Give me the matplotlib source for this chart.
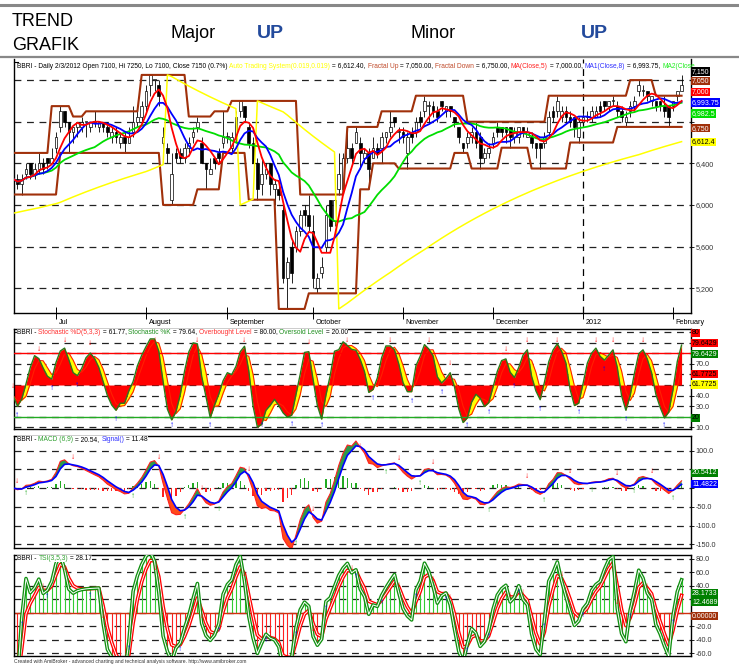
import numpy as np
import pandas as pd
import matplotlib
matplotlib.use("Agg")
import matplotlib.pyplot as plt
import matplotlib.transforms as mtransforms

plt.rcParams['font.family'] = ['Liberation Sans', 'DejaVu Sans']

W, H = 739, 667

# daily OHLC, BBRI, late June 2011 .. 3 Feb 2012
opens = [6350, 6250, 6200, 6300, 6400, 6300, 6350, 6400, 6450, 6400,
         6550, 6750, 6900, 6800, 6700, 6750, 6750, 6800, 6750, 6800,
         6750, 6800, 6750, 6650, 6700, 6600, 6650, 6600, 6700, 6800,
         6850, 6950, 7150, 7200, 7150, 6600, 6550, 6050, 6500, 6500,
         6450, 6550, 6650, 6750, 6600, 6400, 6300, 6450, 6500, 6600,
         6650, 6550, 6650, 6900, 6950, 6750, 6600, 6400, 6200, 6300,
         6400, 6150, 6150, 5950, 5300, 5600, 5600, 5750, 5950, 5900,
         5750, 5200, 5350, 5600, 6050, 5850, 6150, 6150, 6450, 6550,
         6600, 6600, 6450, 6500, 6450, 6550, 6550, 6650, 6700, 6850,
         6700, 6700, 6500, 6700, 6700, 6850, 6900, 6950, 6950, 6900,
         7000, 6900, 6950, 6850, 6750, 6600, 6600, 6650, 6700, 6650,
         6450, 6500, 6600, 6750, 6750, 6750, 6750, 6650, 6650, 6750,
         6650, 6650, 6600, 6600, 6600, 6700, 6900, 6900, 6850, 6900,
         6850, 6850, 6650, 6800, 6850, 6850, 6850, 6950, 7000, 6950,
         7000, 6950, 6900, 6800, 6900, 6950, 7100, 7100, 7100, 7000,
         7000, 7000, 6950, 6950, 6950, 7050, 7100]
highs = [6400, 6300, 6300, 6400, 6400, 6400, 6500, 6450, 6450, 6550,
         6700, 6950, 6900, 6800, 6750, 6800, 6850, 6800, 6800, 6900,
         6800, 6800, 6800, 6750, 6750, 6700, 6700, 6750, 6950, 6900,
         7000, 7150, 7250, 7200, 7200, 6750, 6600, 6500, 6550, 6550,
         6600, 6650, 6750, 6850, 6650, 6400, 6450, 6450, 6550, 6900,
         6700, 6700, 6900, 7000, 6950, 6800, 6650, 6450, 6450, 6400,
         6400, 6250, 6200, 6000, 5500, 5650, 5800, 5950, 6000, 6100,
         5900, 5350, 5500, 6000, 6050, 6100, 6500, 6500, 6700, 6600,
         6750, 6650, 6550, 6550, 6650, 6600, 6700, 6700, 6900, 6850,
         6750, 6750, 6700, 6750, 6850, 6900, 7050, 7000, 7000, 6950,
         7000, 6950, 6950, 6850, 6750, 6600, 6700, 6750, 6800, 6700,
         6550, 6600, 6700, 6800, 6750, 6750, 6750, 6750, 6750, 6750,
         6750, 6700, 6600, 6600, 6700, 6900, 6950, 7050, 6950, 6950,
         6900, 6850, 6850, 6900, 6900, 6950, 6950, 7000, 7000, 7000,
         7050, 7000, 6950, 6900, 7000, 7050, 7200, 7150, 7100, 7050,
         7000, 7000, 7050, 6950, 7000, 7100, 7250]
lows = [6150, 6150, 6100, 6250, 6250, 6250, 6300, 6300, 6350, 6400,
        6500, 6700, 6750, 6500, 6600, 6650, 6700, 6650, 6700, 6750,
        6700, 6700, 6650, 6600, 6600, 6550, 6500, 6600, 6650, 6750,
        6800, 6900, 7050, 7100, 6950, 6550, 6400, 6000, 6400, 6400,
        6400, 6500, 6600, 6700, 6400, 6150, 6300, 6350, 6400, 6550,
        6600, 6500, 6600, 6850, 6800, 6550, 6400, 6050, 6100, 6250,
        6100, 6000, 6050, 5250, 5000, 5250, 5550, 5700, 5800, 5750,
        5200, 5150, 5300, 5550, 5750, 5800, 6100, 6150, 6400, 6400,
        6600, 6350, 6400, 6150, 6450, 6450, 6400, 6600, 6650, 6750,
        6600, 6600, 6350, 6600, 6650, 6750, 6850, 6800, 6850, 6800,
        6900, 6850, 6850, 6750, 6600, 6500, 6550, 6600, 6550, 6350,
        6400, 6450, 6550, 6650, 6650, 6600, 6550, 6600, 6600, 6650,
        6650, 6550, 6450, 6350, 6550, 6650, 6800, 6850, 6800, 6800,
        6750, 6650, 6600, 6750, 6800, 6800, 6850, 6850, 6900, 6900,
        6950, 6850, 6800, 6750, 6850, 6900, 7050, 7050, 7000, 6950,
        6900, 6900, 6850, 6750, 6900, 7000, 7100]
closes = [6250, 6200, 6250, 6350, 6300, 6350, 6400, 6350, 6400, 6450,
          6650, 6900, 6800, 6700, 6750, 6800, 6800, 6800, 6800, 6800,
          6800, 6750, 6700, 6700, 6650, 6650, 6600, 6650, 6800, 6850,
          6950, 7100, 7250, 7200, 7050, 6650, 6500, 6300, 6450, 6450,
          6550, 6600, 6700, 6800, 6400, 6350, 6350, 6400, 6450, 6650,
          6650, 6650, 6850, 7000, 6850, 6600, 6400, 6150, 6300, 6350,
          6200, 6200, 6100, 5300, 5450, 5350, 5750, 5900, 5900, 5800,
          5300, 5300, 5400, 5900, 5800, 6050, 6300, 6450, 6550, 6450,
          6700, 6500, 6500, 6350, 6550, 6500, 6650, 6700, 6750, 6800,
          6700, 6650, 6650, 6650, 6800, 6800, 7000, 6950, 6900, 6850,
          6950, 6950, 6900, 6800, 6650, 6550, 6650, 6700, 6600, 6450,
          6500, 6550, 6650, 6700, 6700, 6700, 6650, 6700, 6750, 6700,
          6700, 6600, 6550, 6550, 6650, 6850, 6850, 7000, 6900, 6850,
          6800, 6750, 6800, 6850, 6850, 6900, 6900, 6900, 6950, 7000,
          7000, 6900, 6850, 6850, 6950, 7000, 7150, 7100, 7050, 7050,
          6950, 6950, 6900, 6850, 7000, 7100, 7150]

month_names = ["Jul", "August", "September", "October", "November",
               "December", "2012", "February"]
month_idx = [10, 31, 50, 70, 91, 112, 133, 154]
sar_start = 5920

o = np.array(opens, float)
c = np.array(closes, float)
h = np.maximum(np.array(highs, float), np.maximum(o, c))
l = np.minimum(np.array(lows, float), np.minimum(o, c))
n = len(c)
x = np.arange(n)
cs = pd.Series(c)


def ema(s, span):
    return pd.Series(s).ewm(span=span, adjust=False).mean().to_numpy()


def sar(high, low, af, start):
    out = np.zeros(len(high))
    rising, s, ep = True, start, high[0]
    for i in range(len(high)):
        if rising and low[i] < s:
            rising, s, ep = False, ep, low[i]
        elif not rising and high[i] > s:
            rising, s, ep = True, ep, high[i]
        else:
            ep = max(ep, high[i]) if rising else min(ep, low[i])
        out[i] = s
        s = s + af * (ep - s)
    return out


def fractal_line(v, up):
    line = np.full(len(v), np.nan)
    for k in range(2, len(v) - 2):
        nb = np.r_[v[k - 2:k], v[k + 1:k + 3]]
        hit = (v[k] > nb.max()) if up else (v[k] < nb.min())
        if hit:
            line[max(k - 2, 0):] = v[k]
    first = line[~np.isnan(line)][0]
    line[np.isnan(line)] = first
    return line


ma5 = cs.rolling(5, min_periods=1).mean().to_numpy()
ma8 = cs.rolling(8, min_periods=1).mean().to_numpy()
ma20 = cs.rolling(20, min_periods=1).mean().to_numpy()
fr_up = fractal_line(h, True)
fr_dn = fractal_line(l, False)
psar = sar(h, l, 0.019, sar_start)

ll = pd.Series(l).rolling(5, min_periods=1).min()
hh = pd.Series(h).rolling(5, min_periods=1).max()
raw = 100 * (cs - ll) / (hh - ll)
stk = raw.rolling(3, min_periods=1).mean()
std = stk.rolling(3, min_periods=1).mean()
stk, std = stk.to_numpy(), std.to_numpy()

macd = ema(c, 6) - ema(c, 9)
msig = ema(macd, 3)
mhist = macd - msig

mtm = np.r_[0, np.diff(c)]
tsi = 100 * ema(ema(mtm, 3), 5) / ema(ema(np.abs(mtm), 3), 5)
tsig = ema(tsi, 3)

fig = plt.figure(figsize=(W / 100, H / 100), dpi=100)
renderer = fig.canvas.get_renderer()


def panel(top, bottom):
    return fig.add_axes([14 / W, 1 - bottom / H, 677 / W, (bottom - top) / H])


dash = (0, (5.5, 4.5))


def grid(ax, levels):
    for v in levels:
        ax.axhline(v, color='#222222', lw=0.9, ls=dash, zorder=0)


def right_axis(ax, ticks, fmt, hidden=()):
    ax.yaxis.tick_right()
    ax.set_yticks(ticks)
    ax.set_yticklabels(["" if t in hidden else fmt(t) for t in ticks],
                       fontsize=5.2, color='#333333')
    ax.tick_params(axis='y', length=2.5, pad=1, width=0.6)
    ax.set_xlim(0.2, 158.2)
    for sp in ax.spines.values():
        sp.set_linewidth(1.0)


def rich(xpix, ypix, parts, size, bg=None):
    xf = xpix / W
    for txt, col in parts:
        kw = {}
        if bg:
            kw['bbox'] = dict(boxstyle='square,pad=0', fc=bg, ec='none')
        t = fig.text(xf, 1 - ypix / H, txt, color=col, fontsize=size,
                     va='center', ha='left', zorder=10, **kw)
        xf = t.get_window_extent(renderer).x1 / W


def tags(items, ypix):
    for (txt, bg, fg), yp in zip(items, ypix):
        fig.text(692 / W, 1 - yp / H, txt, fontsize=5.0, color=fg,
                 va='center', ha='left', zorder=20,
                 bbox=dict(boxstyle='square,pad=0.08', fc=bg, ec='none'))


# ---- header
fig.add_artist(plt.Line2D([0, 1], [1 - 5 / H, 1 - 5 / H], color='#888888', lw=2.2))
fig.add_artist(plt.Line2D([0, 1], [1 - 57 / H, 1 - 57 / H], color='#888888', lw=1.6))
fig.text(12 / W, 1 - 21 / H, "TREND", fontsize=13, va='center')
fig.text(12 / W, 1 - 45 / H, "GRAFIK", fontsize=13, va='center')
fig.text(170 / W, 1 - 33 / H, "Major", fontsize=13, va='center')
fig.text(410 / W, 1 - 33 / H, "Minor", fontsize=13, va='center')
fig.text(257 / W, 1 - 33 / H, "UP", fontsize=14, fontweight='bold', color='#234a9c', va='center')
fig.text(581 / W, 1 - 33 / H, "UP", fontsize=14, fontweight='bold', color='#234a9c', va='center')

# ---- price panel
ax = panel(59, 313)
ax.set_ylim(4961, 7403)
grid(ax, [5200, 5600, 6000, 6400, 6800, 7200])
ax.axvline(133, color='black', lw=0.9, ls=dash, zorder=0)
up = c >= o
ax.vlines(x, l, h, color='black', lw=0.6, zorder=2)
body = np.where(np.abs(c - o) < 1, 8, np.abs(c - o))
ax.bar(x, body, bottom=np.minimum(o, c), width=0.62,
       color=np.where(up, 'white', 'black'), edgecolor='black', lw=0.5, zorder=3)
ax.plot(x, fr_up, color='#a0300a', lw=1.5, zorder=4)
ax.plot(x, fr_dn, color='#a0300a', lw=1.5, zorder=4)
ax.plot(x, psar, color='#ffff00', lw=1.1, zorder=4)
ax.plot(x, ma20, color='#00dd00', lw=1.3, zorder=5)
ax.plot(x, ma8, color='#0000ff', lw=1.3, zorder=5)
ax.plot(x, ma5, color='#ff0000', lw=1.3, zorder=5)
right_axis(ax, [5200, 5600, 6000, 6400, 6800, 7200], lambda v: f"{v:,.0f}", hidden=(6800, 7200))
ax.spines['top'].set_visible(False)
ax.set_xticks(month_idx)
ax.set_xticklabels(month_names, fontsize=5.2)
ax.tick_params(axis='x', direction='inout', length=8, pad=0.5, width=0.7)
off = mtransforms.ScaledTranslation(2 / 72, 0, fig.dpi_scale_trans)
for lab in ax.get_xticklabels():
    lab.set_ha('left')
    lab.set_transform(lab.get_transform() + off)
fig.add_artist(plt.Line2D([14 / W, 18 / W], [1 - 62 / H, 1 - 62 / H], color='black', lw=0.8))

rich(17, 66, [("BBRI - Daily 2/3/2012 Open 7100, Hi 7250, Lo 7100, Close 7150 (0.7%) ", 'black'),
              ("Auto Trading System(0.019,0.019)", '#ffff00'), (" = 6,612.40, ", 'black'),
              ("Fractal Up", '#c04a2a'), (" = 7,050.00, ", 'black'),
              ("Fractal Down", '#c04a2a'), (" = 6,750.00, ", 'black'),
              ("MA(Close,5)", '#ff2020'), (" = 7,000.00, ", 'black'),
              ("MA1(Close,8)", '#3030ff'), (" = 6,993.75, ", 'black'),
              ("MA2(Close", '#20ee20')], 4.75)
tags([("7,150", 'black', 'white'), ("7,050", '#a0300a', 'white'),
      ("7,000", '#ff0000', 'white'), ("6,993.75", '#0000ff', 'white'),
      ("6,982.5", '#00dd00', 'white'), ("6,750", '#a0300a', 'white'),
      ("6,612.4", '#ffff00', 'black')],
     [71.5, 81, 91.7, 102.5, 113.5, 128.3, 142])

# ---- stochastic panel
ax2 = panel(329, 429)
ax2.set_ylim(8.4, 103)
grid(ax2, range(10, 101, 10))
ax2.fill_between(x, stk, std, color='#ffff00', lw=0, zorder=1)
ax2.fill_between(x, 50, stk, color='#ff0000', lw=0, zorder=2)
ax2.plot(x, std, color='#ff2000', lw=0.8, zorder=3)
ax2.plot(x, stk, color='#2a7a1a', lw=1.0, zorder=4)
ax2.axhline(80, color='#ff0000', lw=1, zorder=3)
ax2.axhline(20, color='#22aa22', lw=1, zorder=3)
right_axis(ax2, list(range(10, 101, 10)), lambda v: f"{v:.1f}", hidden=(100, 90, 80, 60, 50, 20))
ax2.set_xticks([])
for i in range(1, n):
    if stk[i] < std[i] and stk[i - 1] >= std[i - 1]:
        ax2.text(i - 1, min(stk[i - 1] + 9, 92), "\u2193", color='red', fontsize=6, ha='center', va='center', zorder=6)
    if stk[i] > std[i] and stk[i - 1] <= std[i - 1]:
        ax2.text(i - 1, max(stk[i - 1] - 9, 12), "\u2191", color='blue', fontsize=6, ha='center', va='center', zorder=6)
rich(17, 332, [("BBRI - ", 'black'), ("Stochastic %D(5,3,3)", '#ff3030'), (" = 61.77, ", 'black'),
               ("Stochastic %K", '#209020'), (" = 79.64, ", 'black'),
               ("Overbought Level", '#ff3030'), (" = 80.00, ", 'black'),
               ("Oversold Level", '#209020'), (" = 20.00", 'black')], 4.75, bg='white')
tags([("80", '#ff0000', 'black'), ("79.6429", '#ff0000', 'black'),
      ("79.6429", '#008000', 'white'), ("61.7725", '#ff0000', 'black'),
      ("61.7725", '#ffff00', 'black'), ("20", '#008000', 'black')],
     [333, 343.3, 354, 374, 384.5, 417.7])

# ---- MACD panel
ax3 = panel(436, 548)
ax3.set_ylim(-159.9, 139.3)
grid(ax3, [-150, -100, -50, 0, 50, 100])
ax3.bar(x, mhist, width=0.3, color=np.where(mhist >= 0, '#22aa22', '#ff2020'), zorder=1)
ax3.fill_between(x, macd, msig, where=macd >= msig, interpolate=True, color='#2e9a4a', lw=0, zorder=2)
ax3.fill_between(x, macd, msig, where=macd < msig, interpolate=True, color='#ff4a1a', lw=0, zorder=2)
ax3.plot(x, macd, color='#ff2020', lw=0.8, zorder=3)
ax3.plot(x, msig, color='#0000ff', lw=1.2, zorder=4)
right_axis(ax3, [-150, -100, -50, 0, 50, 100], lambda v: f"{v:.1f}", hidden=(50, 0))
ax3.set_xticks([])
for i in range(1, n):
    if macd[i] > msig[i] and macd[i - 1] <= msig[i - 1]:
        ax3.text(i, macd[i] - 22, "\u2191", color='#22aa22', fontsize=6, ha='center', va='center', zorder=6)
    if macd[i] < msig[i] and macd[i - 1] >= msig[i - 1]:
        ax3.text(i, min(macd[i] + 22, 110), "\u2193", color='red', fontsize=6, ha='center', va='center', zorder=6)
rich(17, 439.5, [("BBRI - ", 'black'), ("MACD (6,9)", '#30a030'), (" = 20.54, ", 'black'),
                 ("Signal()", '#3030ff'), (" = 11.48", 'black')], 4.75, bg='white')
tags([("20.5412", '#008000', 'white'), ("11.4822", '#0000ff', 'white')], [472.7, 484])

# ---- TSI panel
ax4 = panel(555, 656)
ax4.set_ylim(-64, 85.9)
grid(ax4, range(-60, 81, 20))
ax4.vlines(x, 0, tsi, colors=np.where(tsi >= 0, '#33cc33', '#ff2020'), lw=0.8, zorder=1)
ax4.axhline(0, color='#d03010', lw=1, zorder=2)
for ser, col in [(tsig, '#ff0000'), (tsi, '#109010')]:
    ax4.plot(x, ser, color=col, lw=2.6, zorder=3)
    ax4.plot(x, ser, color='white', lw=0.7, zorder=3)
right_axis(ax4, list(range(-60, 81, 20)), lambda v: f"{v:.1f}", hidden=(20, 0))
ax4.set_xticks([])
for i in range(1, n):
    if tsi[i] > tsig[i] and tsi[i - 1] <= tsig[i - 1]:
        ax4.text(i, max(tsi[i] - 10, -56), "\u2191", color='blue', fontsize=6, ha='center', va='center', zorder=6)
    if tsi[i] < tsig[i] and tsi[i - 1] >= tsig[i - 1]:
        ax4.text(i, min(tsi[i] + 10, 66), "\u2193", color='red', fontsize=6, ha='center', va='center', zorder=6)
rich(17, 558, [("BBRI - ", 'black'), ("TSI(3,5,3)", '#30a030'), (" = 28.17", 'black')], 4.75, bg='white')
tags([("28.1733", '#008000', 'white'), ("12.4689", '#008000', 'white'),
      ("0.00000", '#a0300a', 'white')], [593.5, 602, 616])

fig.text(14 / W, 1 - 662 / H, "Created with AmiBroker - advanced charting and technical analysis software. http://www.amibroker.com",
         fontsize=3.6, color='#333333', va='center')

fig.savefig("out.png", dpi=100)
